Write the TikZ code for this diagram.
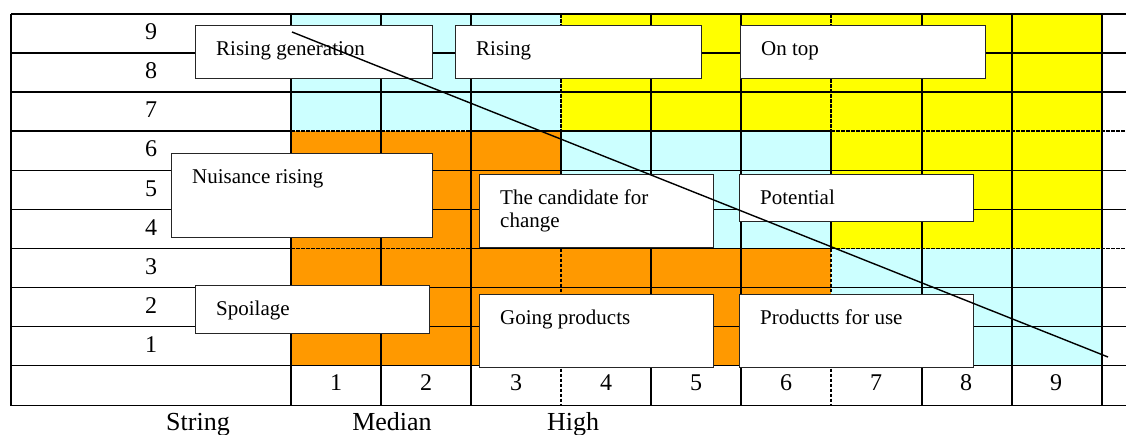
\documentclass[tikz,border=0pt]{standalone}
\usepackage{fontspec}
\setmainfont{Liberation Serif}
\definecolor{cyanL}{HTML}{CCFFFF}
\definecolor{yel}{HTML}{FFFF00}
\definecolor{ora}{HTML}{FF9900}
\newcommand\qbox[6]{%
  \node[box, anchor=north west, minimum width={#4-#2}, minimum height={#5-#3}] (#1) at (#2,#3) {};
  \node[boxtext] (#1t) at ([xshift=21pt,yshift=-30pt]#1.north west) {#6};}
\begin{document}
\begin{tikzpicture}[x=1pt,y=-1pt,
  grid/.style={line width=1.6pt, black},
  dgrid/.style={grid, dash pattern=on 3.5pt off 1.5pt},
  box/.style={draw=black!85, line width=1.4pt, fill=white, inner sep=0pt},
  boxtext/.style={anchor=base west, inner sep=0pt, font=\fontsize{21}{23.5}\selectfont},
  num/.style={anchor=base, inner sep=0pt, font=\fontsize{24}{28}\selectfont},
  axislabel/.style={anchor=base, inner sep=0pt, font=\fontsize{26}{30}\selectfont},
]
\useasboundingbox (0,0) rectangle (1126,434);

% coloured regions
\fill[cyanL] (291,14) rectangle (561,131);
\fill[yel] (561,14) rectangle (1102,131);
\fill[ora] (291,131) rectangle (561,248.5);
\fill[cyanL] (561,131) rectangle (831,248.5);
\fill[yel] (831,131) rectangle (1102,248.5);
\fill[ora] (291,248.5) rectangle (831,365.5);
\fill[cyanL] (831,248.5) rectangle (1102,365.5);

% horizontal grid lines
\foreach \y in {14,53,92,170.5,209.5,287.5,326.5,365.5,405.5}
  \draw[grid] (11,\y) -- (1126,\y);
\draw[grid, line width=2.2pt] (11,131) -- (291,131);
\draw[grid] (11,248.5) -- (291,248.5);
\foreach \y in {131,248.5}{
  \draw[dgrid] (291,\y) -- (471,\y);
  \draw[grid] (471,\y) -- (831,\y);
  \draw[dgrid] (831,\y) -- (1126,\y);
}
% vertical grid lines
\foreach \x in {11,291,381,471,651,741,922,1012,1102}
  \draw[grid] (\x,14) -- (\x,405.5);
\foreach \x in {561,831}{
  \draw[dgrid] (\x,14) -- (\x,131);
  \draw[grid] (\x,131) -- (\x,248.5);
  \draw[dgrid] (\x,248.5) -- (\x,405.5);
}

% row numbers
\foreach \n/\y in {9/14,8/53,7/92,6/131,5/170.5,4/209.5,3/248.5,2/287.5,1/326.5}
  \node[num] (r\n) at (151,\y+25.5) {\n};
% column numbers
\foreach \n in {1,...,9}
  \node[num] (c\n) at (246+90*\n,390.5) {\n};

% boxes
\qbox{bRG}{195}{25}{432}{78}{Rising generation}
\qbox{bR}{455}{25}{701}{78}{Rising}
\qbox{bOT}{740}{25}{985}{78}{On top}
\qbox{bNR}{171}{153}{432}{237}{Nuisance rising}
\qbox{bCC}{479}{174}{713}{247}{\begin{tabular}[t]{@{}l@{}}The candidate for\\change\end{tabular}}
\qbox{bP}{739}{174}{973}{221}{Potential}
\qbox{bS}{195}{285}{429}{333}{Spoilage}
\qbox{bGP}{479}{294}{713}{367}{Going products}
\qbox{bPU}{739}{294}{973}{367}{Productts for use}

% diagonal
\coordinate (d1) at (292,32);
\coordinate (d2) at (1108,357);
\draw[line width=1.4pt] (d1) -- (d2);

% axis labels
\node[axislabel] (lS) at (198,430) {String};
\node[axislabel] (lM) at (392,430) {Median};
\node[axislabel] (lH) at (573,430) {High};
\end{tikzpicture}
\end{document}
